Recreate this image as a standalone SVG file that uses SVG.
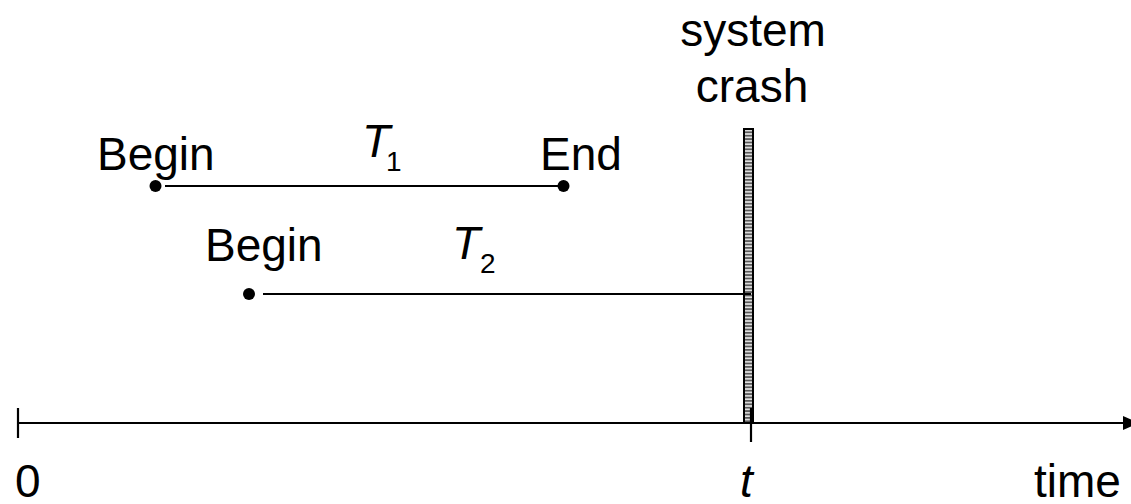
<svg xmlns="http://www.w3.org/2000/svg" width="1131" height="504" viewBox="0 0 1131 504">
  <style>
    .txt { font-family: "Liberation Sans", Arial, sans-serif; font-size: 46px; fill: #000; }
    .it { font-style: italic; }
    .sub { font-family: "Liberation Sans", Arial, sans-serif; font-size: 28px; fill: #000; }
    .ln { stroke: #000; stroke-width: 2.2; fill: none; }
    .dot { fill: #000; }
  </style>
  <defs>
    <pattern id="stripes" patternUnits="userSpaceOnUse" x="0" y="128" width="20" height="3.4">
      <rect x="0" y="0" width="20" height="3.4" fill="#e4e4e4"/>
      <rect x="0" y="0" width="20" height="1.8" fill="#5a5a5a"/>
    </pattern>
    <marker id="arrow" markerUnits="userSpaceOnUse" markerWidth="20" markerHeight="20" refX="16" refY="8" orient="auto">
      <path d="M0,1 L16,8 L0,15 Z" fill="#000"/>
    </marker>
  </defs>

  <g id="crash-bar">
    <rect x="744" y="129" width="9" height="294" fill="url(#stripes)" stroke="#000" stroke-width="2"/>
  </g>

  <g id="connectors">
    <line id="axis" class="ln" x1="18" y1="423" x2="1139" y2="423" marker-end="url(#arrow)"/>
    <line id="axis-start-tick" class="ln" x1="18" y1="408" x2="18" y2="438"/>
    <line id="crash-tick" class="ln" x1="751" y1="408" x2="751" y2="442"/>
    <line id="t1-line" class="ln" x1="165" y1="186" x2="562" y2="186"/>
    <line id="t2-line" class="ln" x1="263" y1="294" x2="751" y2="294"/>
  </g>

  <g id="t1">
    <circle class="dot" cx="155.5" cy="186" r="6"/>
    <circle class="dot" cx="563.5" cy="186" r="6"/>
    <text class="txt" x="97" y="170">Begin</text>
    <text class="txt" x="540" y="170">End</text>
    <text class="txt it" x="362" y="157">T</text>
    <text class="sub" x="386" y="171">1</text>
  </g>

  <g id="t2">
    <circle class="dot" cx="249" cy="294" r="6"/>
    <text class="txt" x="205" y="261">Begin</text>
    <text class="txt it" x="452" y="259">T</text>
    <text class="sub" x="480" y="273">2</text>
  </g>

  <g id="crash-label">
    <text class="txt" x="753" y="46" text-anchor="middle">system</text>
    <text class="txt" x="752" y="102" text-anchor="middle">crash</text>
  </g>

  <g id="axis-labels">
    <text class="txt" x="15" y="497">0</text>
    <text class="txt it" x="740" y="497">t</text>
    <text class="txt" x="1034" y="497">time</text>
  </g>
</svg>
